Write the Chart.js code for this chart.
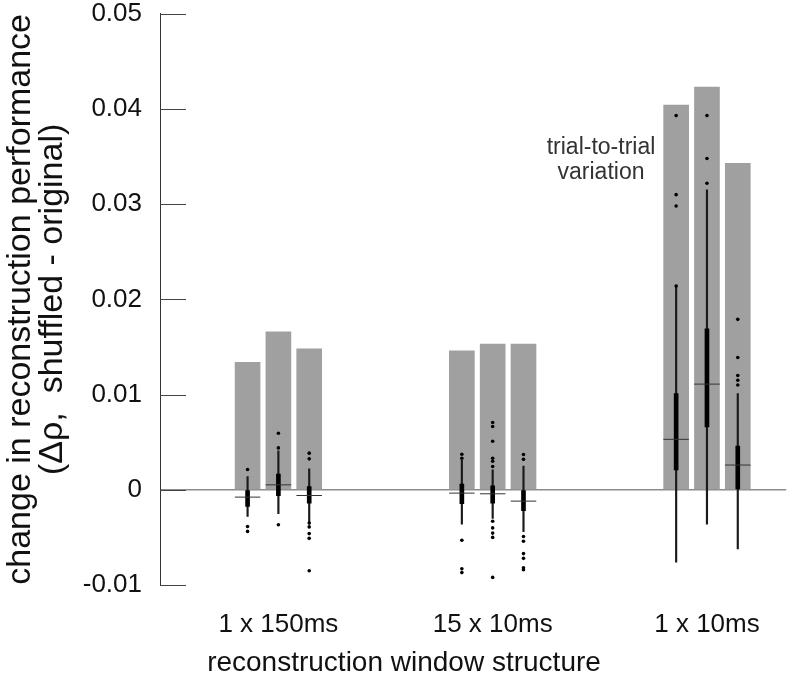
<!DOCTYPE html>
<html>
<head>
<meta charset="utf-8">
<script src="https://cdn.jsdelivr.net/npm/chart.js@4.4.1/dist/chart.umd.min.js"></script>
<style>
  html, body { margin: 0; background: #fff; }
  canvas { display: block; }
</style>
</head>
<body>
<canvas id="chart" width="800" height="682"></canvas>
<script>
const groups = ['1 x 150ms', '15 x 10ms', '1 x 10ms'];

// nine boxes, three per group, left to right
const variation = [0.0134, 0.0166, 0.0148, 0.0146, 0.0153, 0.0153, 0.0404, 0.0423, 0.0343];
const whiskerLo = [-0.0028, -0.0025, -0.0035, -0.0036, -0.0030, -0.0044, -0.0076, -0.0036, -0.0062];
const whiskerHi = [0.0014, 0.0041, 0.0022, 0.0031, 0.0021, 0.0025, 0.0214, 0.0315, 0.0101];
const q1 = [-0.00175, -0.00063, -0.0014, -0.00147, -0.0014, -0.0022, 0.0021, 0.0066, 0.0];
const q3 = [0.0, 0.00164, 0.00035, 0.0006, 0.00042, 0.0, 0.0101, 0.0169, 0.0046];
const medians = [-0.00077, 0.00052, -0.0006, -0.00035, -0.00042, -0.00119, 0.0053, 0.0111, 0.0026];
const outliers = [
  [0.00213, -0.00385, -0.00437],
  [0.00594, 0.0044, -0.00367],
  [0.00385, 0.00325, -0.0035, -0.0039, -0.0046, -0.0051, -0.0085],
  [0.00374, 0.00332, -0.0053, -0.0083, -0.0087],
  [0.00706, 0.00664, 0.0051, 0.00332, 0.003, 0.00244, -0.0033, -0.004, -0.00455, -0.005, -0.0092],
  [0.0037, 0.0032, -0.0049, -0.0054, -0.0067, -0.0072, -0.0082, -0.0084],
  [0.0393, 0.031, 0.0298, 0.0214],
  [0.0393, 0.0348, 0.0322],
  [0.0179, 0.0139, 0.012, 0.0115, 0.011],
];

const FONT = '"Liberation Sans", Arial, Helvetica, sans-serif';
const SHIFT = 0.1438; // spacing of the three boxes inside a group, in group units
const xOf = i => Math.floor(i / 3) + 1 + (i % 3 - 1) * SHIFT;
const isZero = v => Math.abs(v) < 1e-9;

// inward y ticks, the "trial-to-trial variation" note and the x title
// (the x title sits left of the plot centre in the original, so it is drawn here)
const extras = {
  id: 'extras',
  afterDraw(chart) {
    const { ctx, chartArea: a, scales: { y } } = chart;
    ctx.save();
    ctx.strokeStyle = '#444';
    ctx.lineWidth = 1;
    y.ticks.forEach(t => {
      const py = Math.round(y.getPixelForValue(t.value)) + 0.5;
      ctx.beginPath();
      ctx.moveTo(a.left, py);
      ctx.lineTo(a.left + 26, py);
      ctx.stroke();
    });
    ctx.textAlign = 'center';
    ctx.textBaseline = 'middle';
    ctx.fillStyle = '#333';
    ctx.font = `23px ${FONT}`;
    ctx.fillText('trial-to-trial', 601, 148);
    ctx.fillText('variation', 601, 173);
    ctx.fillStyle = '#111';
    ctx.font = `28px ${FONT}`;
    ctx.fillText('reconstruction window structure', 404, 663);
    ctx.restore();
  },
};

new Chart(document.getElementById('chart'), {
  type: 'bar',
  data: {
    datasets: [
      {
        type: 'bar',
        data: variation.map((v, i) => ({ x: xOf(i), y: v })),
        backgroundColor: '#a0a0a0',
        barThickness: 25,
        grouped: false,
        order: 5,
      },
      {
        type: 'bar',
        data: whiskerLo.map((lo, i) => ({ x: xOf(i), y: [lo, whiskerHi[i]] })),
        backgroundColor: '#1a1a1a',
        barThickness: 1.5,
        grouped: false,
        order: 4,
      },
      {
        type: 'bar',
        data: q1.map((lo, i) => ({ x: xOf(i), y: [lo, q3[i]] })),
        backgroundColor: '#000',
        barThickness: 4,
        grouped: false,
        order: 3,
      },
      {
        type: 'scatter',
        data: medians.map((m, i) => ({ x: xOf(i), y: m })),
        pointStyle: 'line',
        radius: 12.75,
        borderColor: '#333',
        borderWidth: 1,
        order: 2,
      },
      {
        type: 'scatter',
        data: outliers.flatMap((list, i) => list.map(v => ({ x: xOf(i), y: v }))),
        pointStyle: 'circle',
        radius: 1.8,
        backgroundColor: '#000',
        borderWidth: 0,
        order: 1,
      },
    ],
  },
  options: {
    responsive: false,
    animation: false,
    events: [],
    layout: { padding: { top: 13, left: 0, right: 0, bottom: 0 } },
    plugins: { legend: { display: false }, tooltip: { enabled: false } },
    scales: {
      x: {
        type: 'linear',
        min: 0.4475,
        max: 3.37,
        offset: false,
        afterBuildTicks: s => { s.ticks = groups.map((_, i) => ({ value: i + 1 })); },
        ticks: {
          callback: v => groups[v - 1],
          font: { family: FONT, size: 26 },
          color: '#111',
          padding: 24,
          maxRotation: 0,
          autoSkip: false,
        },
        grid: { display: false, drawTicks: false },
        border: { display: false },
        afterFit: s => { s.height = 97; },
      },
      y: {
        min: -0.01,
        max: 0.05,
        ticks: {
          stepSize: 0.01,
          callback: v => isZero(v) ? '0' : v.toFixed(2),
          font: { family: FONT, size: 26, lineHeight: 1 },
          color: '#111',
          padding: 18,
        },
        grid: {
          drawTicks: false,
          color: c => isZero(c.tick.value) ? '#8c8c8c' : 'rgba(0,0,0,0)',
          lineWidth: 1.5,
        },
        border: { display: true, color: '#333', width: 1 },
        title: {
          display: true,
          text: ['change in reconstruction performance', '(Δρ,  shuffled - original)'],
          font: { family: FONT, size: 34, lineHeight: 0.95 },
          color: '#111',
          padding: { top: 4, bottom: 0 },
        },
        afterFit: s => {
          s.width = 160;
          s.paddingTop = 0;
          s.paddingBottom = 0;
        },
      },
    },
  },
  plugins: [extras],
});
</script>
</body>
</html>
